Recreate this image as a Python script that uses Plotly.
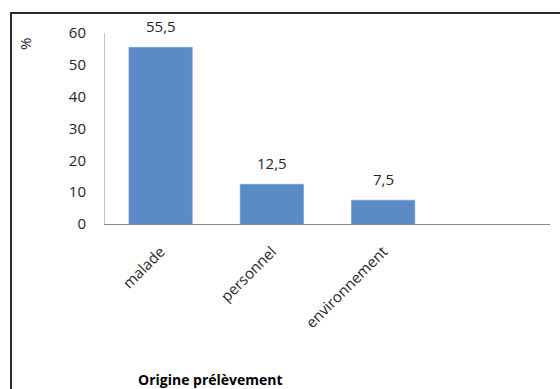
import plotly.graph_objects as go

categories = ["malade", "personnel", "environnement"]
values = [55.5, 12.5, 7.5]
y_ticks = [0, 10, 20, 30, 40, 50, 60]
x_title = "Origine prélèvement"
y_title = "%"

W, H = 560, 389
L, R, T, B = 105, 10, 33, 165
pw, ph = W - L - R, H - T - B

def px(x):
    return (x - L) / pw

def py(y):
    return (H - B - y) / ph

font_family = "Open Sans, Liberation Sans, sans-serif"
txt_color = "#262626"
fs = 15

fig = go.Figure(go.Bar(
    x=categories, y=values,
    marker=dict(color="#5b8bc5", line=dict(color="#6d9ad0", width=0.5)),
))

annotations = [
    dict(x=c, y=v, xref="x", yref="y", text=str(v).replace(".", ","),
         showarrow=False, xanchor="center", yanchor="bottom", yshift=9,
         font=dict(size=fs, color=txt_color, family=font_family))
    for c, v in zip(categories, values)
]
annotations.append(dict(x=px(25), y=py(44), xref="paper", yref="paper", text=y_title,
                        showarrow=False, textangle=-90, xanchor="center", yanchor="middle",
                        font=dict(size=fs, color=txt_color, family=font_family)))
annotations.append(dict(x=px(136), y=py(379), xref="paper", yref="paper",
                        text="<b>" + x_title + "</b>", showarrow=False,
                        xanchor="left", yanchor="middle",
                        font=dict(size=14, color="#000000", family=font_family)))

fig.update_layout(
    width=W, height=H,
    margin=dict(l=L, r=R, t=T, b=B),
    paper_bgcolor="white", plot_bgcolor="white",
    showlegend=False,
    bargap=0.43,
    font=dict(family=font_family, size=fs, color=txt_color),
    annotations=annotations,
    shapes=[dict(type="path", xref="paper", yref="paper",
                 path=f"M {px(11)},{py(400)} L {px(11)},{py(13)} L {px(570)},{py(13)}",
                 line=dict(color="#2a2a2a", width=2))],
    xaxis=dict(type="category", range=[-0.5, 3.5], showgrid=False,
               showline=True, linecolor="#8c8c8c", linewidth=1,
               tickangle=-45, ticks="", ticklabelstandoff=12,
               tickfont=dict(size=fs, color=txt_color)),
    yaxis=dict(range=[0, 60], tickvals=y_ticks, showgrid=False,
               showline=True, linecolor="#c8c8c8", linewidth=1,
               ticks="", ticklabelstandoff=15, zeroline=False,
               tickfont=dict(size=fs, color=txt_color)),
)

fig.write_html("out.html")
